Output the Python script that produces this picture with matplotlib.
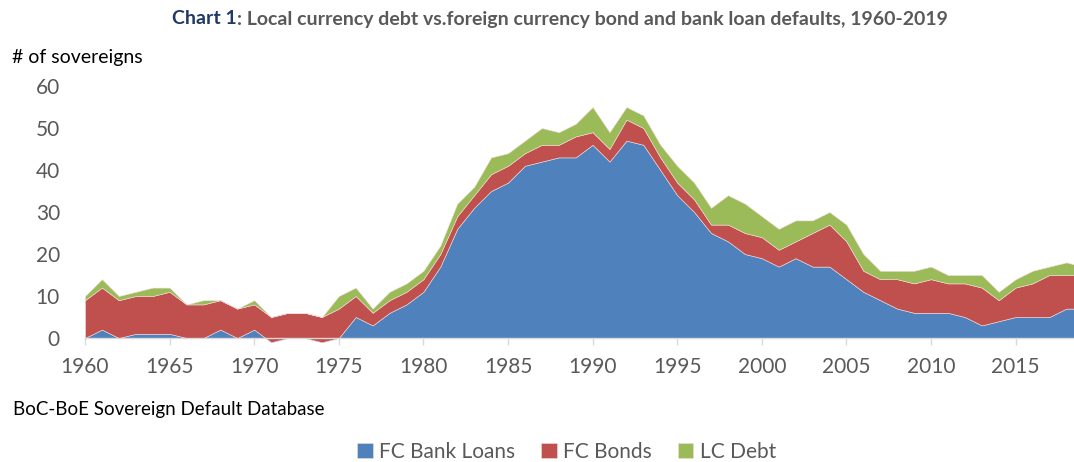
import matplotlib
matplotlib.use("Agg")
import matplotlib.pyplot as plt
import numpy as np

plt.rcParams['font.family'] = ['Lato', 'DejaVu Sans']

years = list(range(1960, 2020))
fc_bank_loans = [0, 2, 0, 1, 1, 1, 0, 0, 2, 0,
                 2, -1, 0, 0, -1, 0, 5, 3, 6, 8,
                 11, 17, 26, 31, 35, 37, 41, 42, 43, 43,
                 46, 42, 47, 46, 40, 34, 30, 25, 23, 20,
                 19, 17, 19, 17, 17, 14, 11, 9, 7, 6,
                 6, 6, 5, 3, 4, 5, 5, 5, 7, 7]
fc_bonds = [9, 10, 9, 9, 9, 10, 8, 8, 7, 7,
            6, 6, 6, 6, 6, 7, 5, 3, 3, 3,
            3, 3, 3, 3, 4, 4, 3, 4, 3, 5,
            3, 3, 5, 4, 3, 3, 3, 2, 4, 5,
            5, 4, 4, 8, 10, 9, 5, 5, 7, 7,
            8, 7, 8, 9, 5, 7, 8, 10, 8, 8]
lc_debt = [1, 2, 1, 1, 2, 1, 0, 1, 0, 0,
           1, 0, 0, 0, 0, 3, 2, 1, 2, 2,
           2, 2, 3, 2, 4, 3, 3, 4, 3, 3,
           6, 4, 3, 3, 3, 4, 4, 4, 7, 7,
           5, 5, 5, 3, 3, 4, 4, 2, 2, 3,
           3, 2, 2, 3, 2, 2, 3, 2, 3, 2]
series_names = ["FC Bank Loans", "FC Bonds", "LC Debt"]
colors = ["#4f81bd", "#c0504d", "#9bbb59"]
xticks = list(range(1960, 2020, 5))
yticks = list(range(0, 70, 10))

W, H = 1074, 462
fig = plt.figure(figsize=(W / 100, H / 100), dpi=100)

px_per_year = 16.92
px_per_unit = 4.2
x0_px = 85
y0_px = 338
ymin, ymax = -3, 62
ax_bottom_px = y0_px - ymin * px_per_unit   # from top
ax_top_px = y0_px - ymax * px_per_unit
ax = fig.add_axes([x0_px / W, (H - ax_bottom_px) / H,
                   1 - x0_px / W, (ax_bottom_px - ax_top_px) / H])

ax.stackplot(years, fc_bank_loans, fc_bonds, lc_debt, colors=colors,
             labels=series_names, edgecolor="#f2dcdb", linewidth=0.4)

ax.set_xlim(1960, 1960 + (W - x0_px) / px_per_year)
ax.set_ylim(ymin, ymax)

for s in ["top", "right", "left"]:
    ax.spines[s].set_visible(False)
ax.spines["bottom"].set_position(("data", 0))
ax.spines["bottom"].set_color("#d9d9d9")
ax.spines["bottom"].set_linewidth(1)

ax.set_xticks(xticks)
ax.set_xticklabels([str(x) for x in xticks])
ax.set_yticks(yticks)
ax.set_yticklabels([str(y) for y in yticks])
ax.tick_params(axis="x", length=5, width=1, color="#d9d9d9", pad=9,
               labelsize=15, labelcolor="#595959")
ax.tick_params(axis="y", length=0, pad=18, labelsize=15, labelcolor="#595959")

# Title in two colours
t1 = fig.text(172 / W, 1 - 19 / H, "Chart 1", fontsize=14, fontweight="bold",
              color="#1f3864", ha="left", va="center")
ax.annotate(": Local currency debt vs.foreign currency bond and bank loan defaults, 1960-2019",
            xy=(1, 0.5), xycoords=t1, ha="left", va="center",
            fontsize=14, fontweight="bold", color="#595959", annotation_clip=False)

fig.text(12 / W, 1 - 57 / H, "# of sovereigns", fontsize=14, color="#000000",
         ha="left", va="center")
fig.text(13 / W, 1 - 409 / H, "BoC-BoE Sovereign Default Database", fontsize=13.5,
         color="#000000", ha="left", va="center")

handles, labels = ax.get_legend_handles_labels()
fig.legend(handles, labels, loc="center", bbox_to_anchor=(566.5 / W, 1 - 452 / H),
           ncol=3, frameon=False, fontsize=15, labelcolor="#595959",
           handlelength=0.75, handleheight=0.75, handletextpad=0.3, columnspacing=1.25)

fig.savefig("out.png", dpi=100)
